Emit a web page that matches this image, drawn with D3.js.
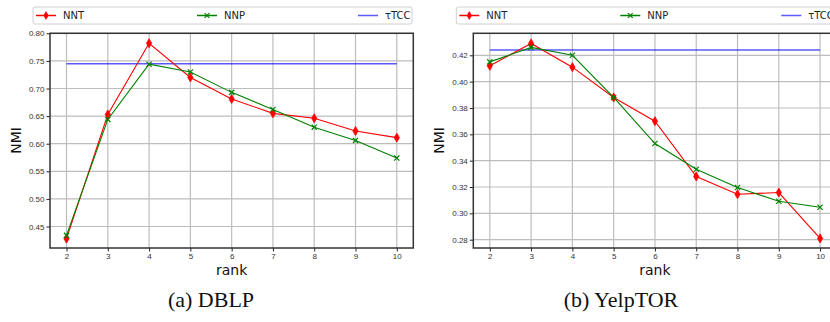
<!doctype html>
<html>
<head>
<meta charset="utf-8">
<style>
  body { margin: 0; background: white; }
  svg { display: block; font-family: "DejaVu Sans", sans-serif; }
  .tick text { font-size: 8px; fill: #333; }
  .caption { font-family: "Liberation Serif", "DejaVu Serif", serif; font-size: 22px; fill: #111; }
</style>
<script src="https://d3js.org/d3.v7.min.js"></script>
</head>
<body>
<script>
// data
var ranks = [2, 3, 4, 5, 6, 7, 8, 9, 10];

var dblpNNT = [0.428, 0.653, 0.782, 0.720, 0.681, 0.655, 0.646, 0.623, 0.611];
var dblpNNP = [0.434, 0.644, 0.744, 0.730, 0.693, 0.662, 0.630, 0.606, 0.574];
var dblpTCC = 0.745;
var dblpTicks = [0.45, 0.50, 0.55, 0.60, 0.65, 0.70, 0.75, 0.80];

var yelpNNT = [0.412, 0.429, 0.411, 0.388, 0.370, 0.328, 0.3145, 0.3158, 0.281];
var yelpNNP = [0.415, 0.426, 0.420, 0.388, 0.353, 0.3335, 0.3196, 0.3092, 0.3046];
var yelpTCC = 0.424;
var yelpTicks = [0.28, 0.30, 0.32, 0.34, 0.36, 0.38, 0.40, 0.42];

var seriesNames = ['NNT', 'NNP', '\u03c4TCC'];
var colors = { NNT: '#ff0000', NNP: '#008000', TCC: '#0000ff' };

var svg = d3.select('body').append('svg')
  .attr('width', 830)
  .attr('height', 322);

var clip = svg.append('defs').append('clipPath').attr('id', 'page')
clip.append('rect').attr('width', 830).attr('height', 322);

var root = svg.append('g').attr('clip-path', 'url(#page)');

function panel(opt) {
  var g = root.append('g');
  var x = d3.scaleLinear().domain([1.6, 10.4]).range([opt.left, opt.left + 363.3]);
  var y = d3.scaleLinear().domain(opt.yDomain).range([248, 33.3]);

  // grid
  g.append('g').selectAll('line').data(ranks).enter().append('line')
    .attr('x1', d => x(d)).attr('x2', d => x(d))
    .attr('y1', 33.3).attr('y2', 248)
    .attr('stroke', '#bdbdbd').attr('stroke-width', 1.2);
  g.append('g').selectAll('line').data(opt.ticks).enter().append('line')
    .attr('x1', x.range()[0]).attr('x2', x.range()[1])
    .attr('y1', d => y(d)).attr('y2', d => y(d))
    .attr('stroke', '#bdbdbd').attr('stroke-width', 1.2);

  // axes
  var xAxis = g.append('g')
    .attr('transform', 'translate(0,248)')
    .call(d3.axisBottom(x).tickValues(ranks).tickSize(3.5).tickPadding(2).tickFormat(d3.format('d')));
  var yAxis = g.append('g')
    .attr('transform', 'translate(' + opt.left + ',0)')
    .call(d3.axisLeft(y).tickValues(opt.ticks).tickSize(3.5).tickPadding(2).tickFormat(d3.format('.2f')));
  [xAxis, yAxis].forEach(function(a) {
    a.select('.domain').remove();
    a.selectAll('.tick line').attr('stroke', '#222').attr('stroke-width', 1);
  });

  // frame
  g.append('rect')
    .attr('x', x.range()[0]).attr('y', 33.3)
    .attr('width', x.range()[1] - x.range()[0]).attr('height', 248 - 33.3)
    .attr('fill', 'none').attr('stroke', '#333').attr('stroke-width', 1.5);

  // TCC baseline
  g.append('line')
    .attr('x1', x(2)).attr('x2', x(10))
    .attr('y1', y(opt.tcc)).attr('y2', y(opt.tcc))
    .attr('stroke', colors.TCC).attr('stroke-opacity', 0.65).attr('stroke-width', 1.5);

  var line = d3.line().x((d, i) => x(ranks[i])).y(d => y(d));

  // NNT
  g.append('path').datum(opt.nnt).attr('d', line)
    .attr('fill', 'none').attr('stroke', colors.NNT).attr('stroke-width', 1.1);
  g.append('g').selectAll('path').data(opt.nnt).enter().append('path')
    .attr('d', 'M0,-4.5L2.6,0L0,4.5L-2.6,0Z')
    .attr('transform', (d, i) => 'translate(' + x(ranks[i]) + ',' + y(d) + ')')
    .attr('fill', colors.NNT).attr('stroke', colors.NNT).attr('stroke-width', 0.8);

  // NNP
  g.append('path').datum(opt.nnp).attr('d', line)
    .attr('fill', 'none').attr('stroke', colors.NNP).attr('stroke-width', 1.1);
  g.append('g').selectAll('path').data(opt.nnp).enter().append('path')
    .attr('d', 'M-2.6,-2.6L2.6,2.6M-2.6,2.6L2.6,-2.6')
    .attr('transform', (d, i) => 'translate(' + x(ranks[i]) + ',' + y(d) + ')')
    .attr('fill', 'none').attr('stroke', colors.NNP).attr('stroke-width', 1.2);

  // axis labels
  g.append('text').text('rank')
    .attr('x', (x.range()[0] + x.range()[1]) / 2).attr('y', 275)
    .attr('text-anchor', 'middle').attr('font-size', 14).attr('fill', '#111');
  g.append('text').text('NMI')
    .attr('transform', 'translate(' + (opt.left - 29) + ',140.5) rotate(-90)')
    .attr('text-anchor', 'middle').attr('font-size', 14).attr('fill', '#111');

  // legend
  var lg = g.append('g').attr('transform', 'translate(' + (opt.left - 17) + ',7)');
  lg.append('rect').attr('width', 379).attr('height', 17).attr('rx', 2)
    .attr('fill', 'white').attr('stroke', '#d0d0d0').attr('stroke-width', 1);
  var items = lg.selectAll('.item').data(seriesNames).enter().append('g')
    .attr('transform', (d, i) => 'translate(' + [3, 164, 325][i] + ',8.5)');
  items.append('line').attr('x1', 0).attr('x2', 20)
    .attr('stroke', (d, i) => [colors.NNT, colors.NNP, colors.TCC][i])
    .attr('stroke-opacity', (d, i) => i == 2 ? 0.65 : 1)
    .attr('stroke-width', 1.5);
  items.filter((d, i) => i == 0).append('path')
    .attr('d', 'M10,-4.5L12.6,0L10,4.5L7.4,0Z').attr('fill', colors.NNT);
  items.filter((d, i) => i == 1).append('path')
    .attr('d', 'M7.6,-2.4L12.4,2.4M7.6,2.4L12.4,-2.4')
    .attr('stroke', colors.NNP).attr('stroke-width', 1.2);
  items.append('text').text(d => d)
    .attr('x', 27).attr('y', 3.5).attr('font-size', 10).attr('fill', '#222');

  // caption
  svg.append('text').attr('class', 'caption').text(opt.caption)
    .attr('x', opt.capX).attr('y', 307).attr('text-anchor', 'middle');
}

panel({ left: 50, yDomain: [0.4111, 0.80], ticks: dblpTicks, nnt: dblpNNT, nnp: dblpNNP, tcc: dblpTCC, caption: '(a) DBLP', capX: 211 });
panel({ left: 473.3, yDomain: [0.2737, 0.4367], ticks: yelpTicks, nnt: yelpNNT, nnp: yelpNNP, tcc: yelpTCC, caption: '(b) YelpTOR', capX: 621 });
</script>
</body>
</html>
